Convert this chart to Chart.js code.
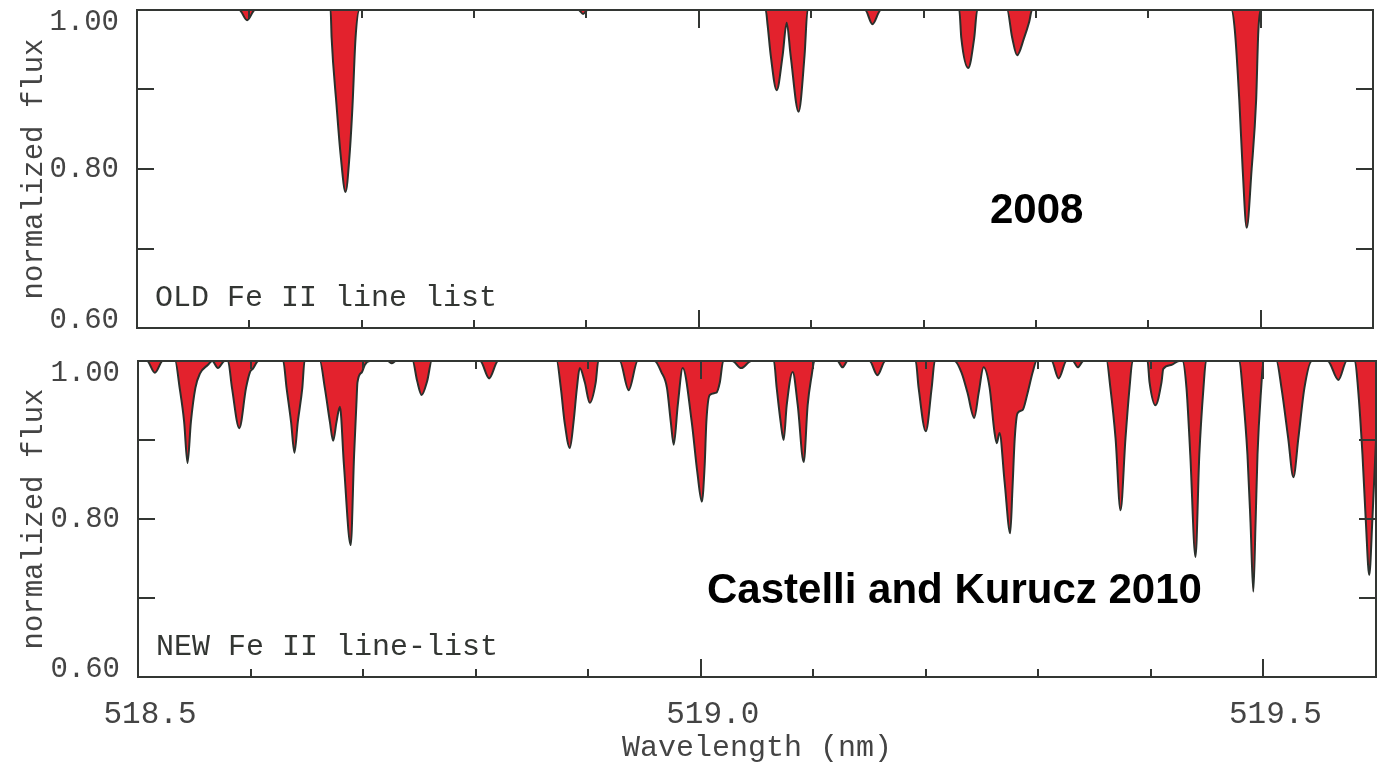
<!DOCTYPE html>
<html>
<head>
<meta charset="utf-8">
<script src="https://cdn.jsdelivr.net/npm/chart.js@4.4.1/dist/chart.umd.min.js"></script>
<style>
    body { margin: 0; background: #fff; width: 1385px; height: 763px; overflow: hidden; position: relative; }
    .panel { position: absolute; left: 0; width: 1385px; }
    #topBox { top: 0; height: 340px; }
    #bottomBox { top: 340px; height: 423px; }
</style>
</head>
<body>
<div class="panel" id="topBox"><canvas id="topChart"></canvas></div>
<div class="panel" id="bottomBox"><canvas id="bottomChart"></canvas></div>
<script>
// axis ticks
const xLabelValues = [518.5, 519.0, 519.5];
const xTickValues = [518.6, 518.7, 518.8, 518.9, 519.0, 519.1, 519.2, 519.3, 519.4, 519.5];
const xMajorTicks = [519.0, 519.5];
const yLabelValues = [1.0, 0.8, 0.6];
const yTickValues = [0.7, 0.8, 0.9];

// OLD Fe II line list (2008)
const oldWavelength = [
    518.500,
    518.591, 518.598, 518.605,
    518.6723, 518.6732, 518.6776, 518.6812, 518.6856, 518.6892, 518.6918, 518.6945, 518.698,
    518.893, 518.897, 518.901,
    519.0595, 519.0613, 519.064, 519.0693, 519.0746, 519.0782, 519.0817, 519.0888, 519.0941, 519.0968,
    519.148, 519.1545, 519.162,
    519.2318, 519.2336, 519.2398, 519.2451, 519.2478,
    519.2744, 519.2789, 519.2833, 519.2895, 519.294, 519.2966,
    519.474, 519.477, 519.481, 519.484, 519.4876, 519.492, 519.496, 519.498, 519.501,
    519.600
];
const oldFlux = [
    1.000,
    1.000, 0.987, 1.000,
    1.000, 0.965, 0.880, 0.818, 0.771, 0.818, 0.880, 0.965, 1.000,
    1.000, 0.995, 1.000,
    1.000, 0.980, 0.943, 0.899, 0.943, 0.984, 0.943, 0.872, 0.943, 1.000,
    1.000, 0.982, 1.000,
    1.000, 0.965, 0.927, 0.965, 1.000,
    1.000, 0.965, 0.943, 0.965, 0.985, 1.000,
    1.000, 0.975, 0.887, 0.800, 0.726, 0.800, 0.887, 0.975, 1.000,
    1.000
];

// NEW Fe II line list (Castelli and Kurucz 2010) - lower panel
const newWavelength = [
    518.500,
    518.508, 518.515, 518.522,
    518.533, 518.537, 518.541, 518.544, 518.547, 518.551, 518.555, 518.562, 518.566, 518.571, 518.577,
    518.580, 518.5835, 518.590, 518.596, 518.5995, 518.602, 518.607,
    518.629, 518.632, 518.636, 518.639, 518.642, 518.646, 518.648,
    518.6616, 518.666, 518.6705, 518.6734, 518.6764, 518.6794, 518.683, 518.689, 518.692, 518.694, 518.695, 518.699, 518.7015, 518.706,
    518.722, 518.7255, 518.729,
    518.744, 518.748, 518.752, 518.757, 518.761,
    518.804, 518.812, 518.820,
    518.872, 518.8757, 518.879, 518.8837, 518.887, 518.890, 518.8925, 518.897, 518.9014, 518.9067, 518.909,
    518.928, 518.936, 518.944,
    518.959, 518.965, 518.970, 518.9734, 518.976, 518.9796, 518.984, 518.992, 518.997, 519.001, 519.0035, 519.005, 519.008, 519.014, 519.017, 519.020,
    519.028, 519.036, 519.045,
    519.065, 519.0675, 519.071, 519.0737, 519.0764, 519.0817, 519.0862, 519.0915, 519.095, 519.0986, 519.101,
    519.1215, 519.126, 519.1305,
    519.150, 519.157, 519.164,
    519.191, 519.1936, 519.200, 519.2052, 519.208,
    519.2256, 519.2318, 519.237, 519.243, 519.247, 519.2513, 519.2567, 519.261, 519.263, 519.2655, 519.270, 519.275, 519.277, 519.279, 519.2815, 519.286, 519.290, 519.295, 519.2984,
    519.3117, 519.318, 519.325,
    519.3307, 519.335, 519.340,
    519.3606, 519.364, 519.3686, 519.373, 519.3774, 519.381, 519.3837,
    519.397, 519.3988, 519.404, 519.4094, 519.411, 519.418, 519.425,
    519.428, 519.4316, 519.435, 519.4396, 519.443, 519.4467, 519.449,
    519.4787, 519.4813, 519.4858, 519.4885, 519.491, 519.493, 519.4947, 519.498, 519.500,
    519.5115, 519.516, 519.522, 519.5266, 519.531, 519.5364, 519.543,
    519.557, 519.5666, 519.574,
    519.5813, 519.584, 519.588, 519.591, 519.594, 519.5968, 519.600
];
const newFlux = [
    1.000,
    1.000, 0.985, 1.000,
    1.000, 0.966, 0.923, 0.871, 0.923, 0.966, 0.984, 0.995, 1.000, 0.991, 1.000,
    1.000, 0.966, 0.915, 0.966, 0.986, 0.990, 1.000,
    1.000, 0.966, 0.923, 0.884, 0.923, 0.966, 1.000,
    1.000, 0.966, 0.923, 0.899, 0.923, 0.942, 0.868, 0.767, 0.881, 0.944, 0.973, 0.986, 0.995, 1.000,
    1.000, 0.997, 1.000,
    1.000, 0.975, 0.957, 0.975, 1.000,
    1.000, 0.978, 1.000,
    1.000, 0.966, 0.923, 0.890, 0.923, 0.966, 0.991, 0.973, 0.947, 0.973, 1.000,
    1.000, 0.963, 1.000,
    1.000, 0.986, 0.966, 0.923, 0.894, 0.944, 0.991, 0.923, 0.859, 0.822, 0.868, 0.923, 0.957, 0.960, 0.973, 1.000,
    1.000, 0.991, 1.000,
    1.000, 0.966, 0.923, 0.900, 0.944, 0.986, 0.944, 0.872, 0.944, 0.982, 1.000,
    1.000, 0.992, 1.000,
    1.000, 0.982, 1.000,
    1.000, 0.966, 0.911, 0.966, 1.000,
    1.000, 0.985, 0.960, 0.928, 0.960, 0.992, 0.966, 0.910, 0.896, 0.909, 0.847, 0.782, 0.839, 0.902, 0.934, 0.938, 0.957, 0.986, 1.000,
    1.000, 0.978, 1.000,
    1.000, 0.992, 1.000,
    1.000, 0.966, 0.902, 0.811, 0.902, 0.966, 1.000,
    1.000, 0.973, 0.944, 0.973, 0.990, 0.995, 1.000,
    1.000, 0.966, 0.881, 0.752, 0.881, 0.966, 1.000,
    1.000, 0.966, 0.881, 0.796, 0.708, 0.796, 0.881, 0.966, 1.000,
    1.000, 0.966, 0.902, 0.853, 0.902, 0.966, 1.000,
    1.000, 0.976, 1.000,
    1.000, 0.966, 0.881, 0.796, 0.729, 0.800, 0.900
];

const INK = '#333633';
const LABEL = '#444';
const MONO = '"Liberation Mono", "DejaVu Sans Mono", monospace';

// frame with inward ticks, y labels and the texts inside each panel
const framePlugin = {
    id: 'frame',
    afterDatasetsDraw(chart, args, opts) {
        const { ctx, chartArea: a } = chart;
        const x = chart.scales.x, y = chart.scales.y;
        ctx.save();
        ctx.strokeStyle = INK;
        ctx.lineWidth = 2;
        ctx.strokeRect(a.left, a.top, a.right - a.left, a.bottom - a.top);

        ctx.beginPath();
        xTickValues.forEach(v => {
            const px = Math.round(x.getPixelForValue(v));
            const len = xMajorTicks.includes(v) ? 18 : 8;
            ctx.moveTo(px, a.top); ctx.lineTo(px, a.top + len);
            ctx.moveTo(px, a.bottom); ctx.lineTo(px, a.bottom - len);
        });
        yTickValues.forEach(v => {
            const py = Math.round(y.getPixelForValue(v));
            ctx.moveTo(a.left, py); ctx.lineTo(a.left + 17, py);
            ctx.moveTo(a.right, py); ctx.lineTo(a.right - 17, py);
        });
        ctx.stroke();

        // y labels, kept inside the frame at the ends
        ctx.fillStyle = LABEL;
        ctx.font = '29px ' + MONO;
        ctx.textAlign = 'right';
        ctx.textBaseline = 'middle';
        yLabelValues.forEach(v => {
            let py = y.getPixelForValue(v);
            py = Math.min(Math.max(py, a.top + 12), a.bottom - 8);
            ctx.fillText(v.toFixed(2), a.left - 18, py);
        });

        // line list name
        ctx.textAlign = 'left';
        ctx.textBaseline = 'alphabetic';
        ctx.fillStyle = INK;
        ctx.font = '30px ' + MONO;
        ctx.fillText(opts.listName, a.left + 18, a.bottom - 22);

        // source tag
        ctx.fillStyle = '#000';
        ctx.font = 'bold 42px "Liberation Sans", Arial, sans-serif';
        ctx.fillText(opts.tag, opts.tagX, opts.tagY);
        ctx.restore();
    }
};

function spectrum(wl, flux) {
    return wl.map((w, i) => ({ x: w, y: flux[i] }));
}

function makeChart(id, wl, flux, withAxis, frameOpts, padding) {
    return new Chart(document.getElementById(id), {
        type: 'line',
        data: {
            datasets: [{
                data: spectrum(wl, flux),
                borderColor: '#2a302c',
                borderWidth: 2,
                backgroundColor: '#e3222d',
                fill: { value: 1 },
                pointRadius: 0,
                cubicInterpolationMode: 'monotone'
            }]
        },
        options: {
            responsive: true,
            maintainAspectRatio: false,
            animation: false,
            layout: { padding: padding },
            plugins: {
                legend: { display: false },
                tooltip: { enabled: false },
                frame: frameOpts
            },
            scales: {
                x: {
                    type: 'linear',
                    min: 518.5,
                    max: 519.6,
                    display: withAxis,
                    afterBuildTicks: s => { s.ticks = xLabelValues.map(v => ({ value: v })); },
                    afterFit: s => { s.height = withAxis ? 86 : 0; },
                    grid: { display: false },
                    border: { display: false },
                    ticks: {
                        color: LABEL,
                        font: { family: MONO, size: 31 },
                        padding: 11,
                        labelOffset: 12,
                        maxRotation: 0,
                        callback: v => v.toFixed(1)
                    },
                    title: {
                        display: true,
                        text: 'Wavelength (nm)',
                        color: LABEL,
                        font: { family: MONO, size: 30, lineHeight: 1 },
                        padding: { top: 0, bottom: 0 }
                    }
                },
                y: {
                    type: 'linear',
                    min: 0.6,
                    max: 1.0,
                    afterFit: s => { s.width = padding.axisWidth; },
                    grid: { display: false },
                    border: { display: false },
                    ticks: { display: false },
                    title: {
                        display: true,
                        text: 'normalized flux',
                        color: LABEL,
                        font: { family: MONO, size: 29, lineHeight: 1 },
                        padding: { top: 20, bottom: 0 }
                    }
                }
            }
        },
        plugins: [framePlugin]
    });
}

makeChart('topChart', oldWavelength, oldFlux, false,
    { listName: 'OLD Fe II line list', tag: '2008', tagX: 990, tagY: 223 },
    { top: 10, right: 12, bottom: 12, left: 0, axisWidth: 137 });

makeChart('bottomChart', newWavelength, newFlux, true,
    { listName: 'NEW Fe II line-list', tag: 'Castelli and Kurucz 2010', tagX: 707, tagY: 263 },
    { top: 21, right: 9, bottom: 0, left: 0, axisWidth: 138 });
</script>
</body>
</html>
